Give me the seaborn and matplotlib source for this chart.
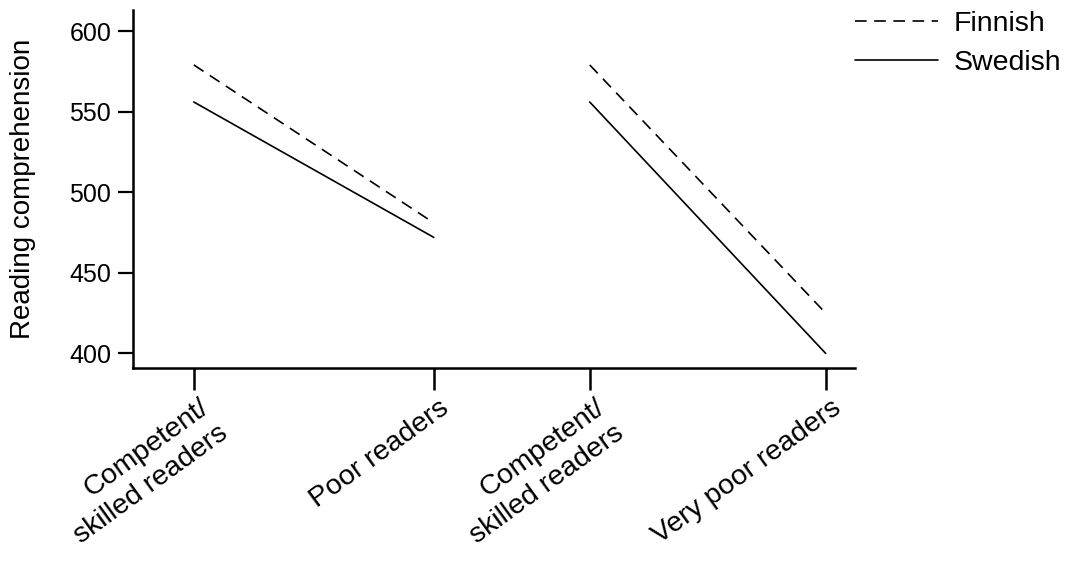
import matplotlib
matplotlib.use("Agg")
import matplotlib.pyplot as plt
import matplotlib.transforms as mtransforms
import seaborn as sns
import pandas as pd

# Data
categories = ["Competent/\nskilled readers", "Poor readers",
              "Competent/\nskilled readers", "Very poor readers"]
finnish = [579, 481, 579, 425]
swedish = [556, 472, 556, 400]
segments = [0, 0, 1, 1]
x_pos = [0, 240, 396, 632]

rows = []
for lang, vals in (("Finnish", finnish), ("Swedish", swedish)):
    for i, v in enumerate(vals):
        rows.append({"x": x_pos[i], "score": v, "language": lang,
                     "seg": f"{lang}-{segments[i]}"})
df = pd.DataFrame(rows)

sns.set_theme(style="ticks")
plt.rcParams["font.family"] = ["Liberation Sans", "DejaVu Sans"]
plt.rcParams["text.color"] = "black"

fig = plt.figure(figsize=(10.71, 5.63), dpi=100)
ax = fig.add_axes([0.124, 0.346, 0.674, 0.636])

sns.lineplot(data=df, x="x", y="score", style="language", units="seg",
             estimator=None, color="black", linewidth=1.2,
             dashes={"Finnish": (7, 4.5), "Swedish": ""},
             style_order=["Finnish", "Swedish"], ax=ax, legend=True)

ax.set_xlim(-61, 661)
ax.set_ylim(390.8, 613)
ax.set_yticks([400, 450, 500, 550, 600])
ax.set_xticks(x_pos)
ax.set_xticklabels(categories, rotation=36, ha="right", va="top",
                   rotation_mode="anchor", fontsize=20.5, linespacing=1.3)
ax.tick_params(axis="y", labelsize=18, length=10.5, width=1.6, color="black",
               labelcolor="black", pad=5)
ax.tick_params(axis="x", length=16, width=1.8, color="black",
               labelcolor="black", pad=3)
offset = mtransforms.ScaledTranslation(5 / 100, 0, fig.dpi_scale_trans)
for lbl in ax.get_xticklabels():
    lbl.set_transform(lbl.get_transform() + offset)
ax.set_xlabel("")
ax.set_ylabel("Reading comprehension", fontsize=20, color="black", labelpad=24)
for s in ("top", "right"):
    ax.spines[s].set_visible(False)
for s in ("left", "bottom"):
    ax.spines[s].set_linewidth(1.8)
    ax.spines[s].set_color("black")

leg = ax.legend(loc="upper left", bbox_to_anchor=(0.985, 1.03), frameon=False,
                fontsize=20.5, handlelength=2.9, handletextpad=0.55,
                labelspacing=0.45, borderaxespad=0)
for h in leg.get_lines():
    h.set_linewidth(1.2)
    h.set_color("black")
for t in leg.get_texts():
    t.set_color("black")

fig.savefig("out.png", dpi=100, facecolor="white")
